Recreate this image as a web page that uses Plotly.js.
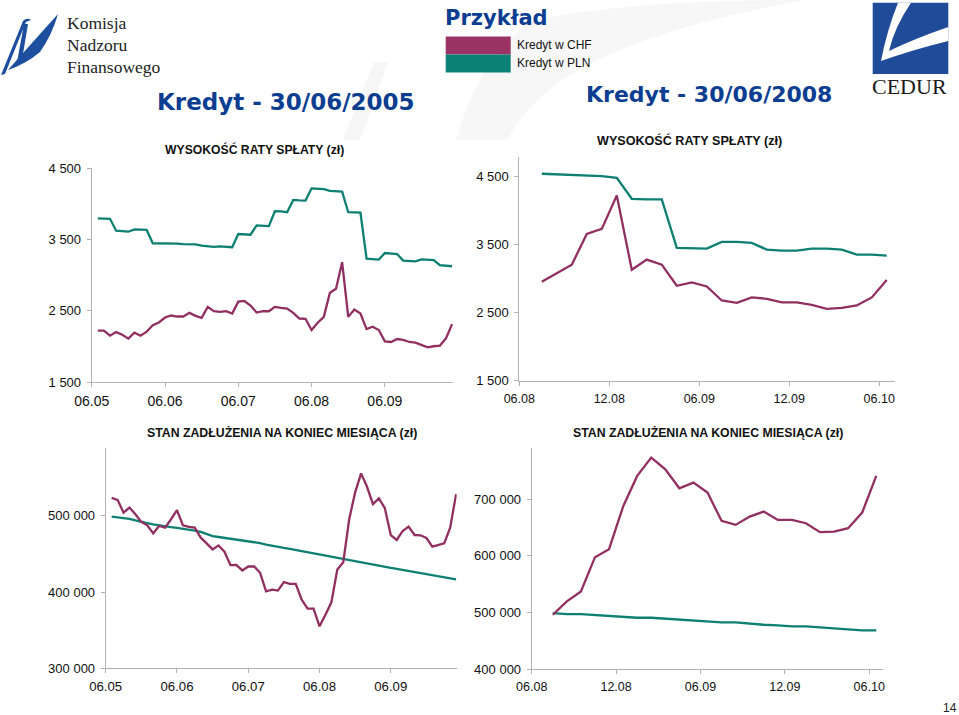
<!DOCTYPE html>
<html><head><meta charset="utf-8">
<script src="https://cdn.plot.ly/plotly-3.0.1.min.js"></script>
<style>html,body{margin:0;padding:0;background:#fff;overflow:hidden}#chart{width:959px;height:715px}</style>
</head><body><div id="chart"></div>
<script>
// ---------- DATA ----------
// month offsets from the first tick (06.05 for 2005 loan, 06.08 for 2008 loan)
const months2005 = [1,2,3,4,5,6,7,8,9,10,11,12,13,14,15,16,17,18,19,20,21,22,23,24,25,26,27,28,29,30,31,32,33,34,35,36,37,38,39,40,41,42,43,44,45,46,47,48,49,50,51,52,53,54,55,56,57,58,59];
const months2008 = [1.5,2.5,3.5,4.5,5.5,6.5,7.5,8.5,9.5,10.5,11.5,12.5,13.5,14.5,15.5,16.5,17.5,18.5,19.5,20.5,21.5,22.5,23.5,24.5];

const ticks2005 = ["06.05","06.06","06.07","06.08","06.09"];
const tickPos2005 = [0,12,24,36,48];
const ticks2008 = ["06.08","12.08","06.09","12.09","06.10"];
const tickPos2008 = [0,6,12,18,24];

const rataTickVals = [1500,2500,3500,4500];
const rataTickText = ["1 500","2 500","3 500","4 500"];
const dlug2005TickVals = [300000,400000,500000];
const dlug2005TickText = ["300 000","400 000","500 000"];
const dlug2008TickVals = [400000,500000,600000,700000];
const dlug2008TickText = ["400 000","500 000","600 000","700 000"];

// Installment (WYSOKOŚĆ RATY SPŁATY) – loan taken 30/06/2005
const rata2005CHF = [2219,2219,2149,2200,2163,2108,2191,2149,2205,2297,2335,2404,2432,2418,2418,2469,2427,2400,2553,2494,2484,2494,2460,2627,2636,2571,2474,2492,2492,2553,2539,2529,2469,2390,2386,2228,2330,2413,2752,2808,3179,2413,2515,2460,2242,2274,2228,2070,2061,2103,2089,2061,2052,2019,1987,2001,2010,2112,2312];
const rata2005PLN = [3795,3790,3788,3620,3615,3607,3640,3635,3632,3445,3445,3443,3442,3440,3432,3430,3428,3412,3405,3395,3402,3395,3390,3575,3568,3565,3695,3692,3685,3895,3893,3880,4052,4045,4043,4215,4208,4205,4178,4175,4168,3880,3876,3874,3230,3228,3216,3308,3305,3294,3202,3193,3192,3220,3218,3210,3138,3135,3123];

// Installment – loan taken 30/06/2008
const rata2008CHF = [2951,3078,3201,3652,3725,4216,3127,3275,3201,2892,2941,2882,2676,2642,2721,2701,2647,2647,2613,2554,2569,2603,2721,2975];
const rata2008PLN = [4534,4525,4525,4515,4500,4475,4167,4157,4157,3446,3436,3436,3534,3534,3520,3422,3407,3407,3436,3436,3422,3348,3348,3333];

// Debt at month end (STAN ZADŁUŻENIA) – 2005 loan
const dlug2005CHF = [523700,521100,504400,511000,502200,492100,487700,477100,486800,484600,495600,507500,487700,485500,484600,471400,464000,456000,461300,453000,435400,435800,428400,433600,433600,425300,401100,403300,402000,413000,410800,410800,390100,378200,378200,355100,370300,386600,429700,439300,495600,530800,555800,538200,515400,522900,510100,474900,468400,480200,485900,474900,474500,471000,459600,461300,464000,484600,528600];
const dlug2005PLN = [499000,498000,497200,496000,494000,492000,490500,489000,487500,486300,485200,484200,483300,482000,480800,479000,476000,473500,472300,471200,470200,469000,468000,467000,465800,464300,462300,460600,459300,458000,456800,455300,453900,452400,451000,449500,448200,446600,445100,443600,442200,440300,438600,437200,435800,434500,433300,431900,430600,429200,427900,426300,424900,423600,422400,421200,419900,418300,416700];

// Debt at month end – 2008 loan
const dlug2008CHF = [495900,519400,537100,597600,611800,687100,741200,773500,752900,719400,729400,711800,661800,654700,669400,678200,663500,663500,657600,641800,642900,648800,676500,741200];
const dlug2008PLN = [498800,497100,497100,495300,494100,492400,490600,490600,488800,487100,485900,484100,482400,482400,480000,478200,477100,475300,475300,473500,471800,470000,468200,468200];

// ---------- STYLE ----------
const W = 959, H = 715;
const fx = x => x / W, fy = y => 1 - y / H;
const CHF = '#922f61', PLN = '#0d8072';
const SANS = 'Liberation Sans, Arial, sans-serif';
const BOLD = 'DejaVu Sans, Verdana, sans-serif';
const SERIF = 'Liberation Serif, Times New Roman, serif';

function path(cmds){
  let s = '', i = 0;
  while (i < cmds.length){
    const c = cmds[i++];
    if (c === 'Z'){ s += 'Z'; continue; }
    const n = c === 'Q' ? 2 : 1;
    s += c;
    for (let k = 0; k < n; k++){
      const x = cmds[i++], y = cmds[i++];
      s += (k ? ' ' : '') + fx(x).toFixed(5) + ',' + fy(y).toFixed(5);
    }
    s += ' ';
  }
  return s;
}

function xax(dom, range, vals, text, fs){
  return {domain:[fx(dom[0]), fx(dom[1])], range:range, tickvals:vals, ticktext:text,
    showline:true, linecolor:'#b2b2b2', linewidth:1, ticks:'outside', ticklen:4, tickcolor:'#b2b2b2',
    showgrid:false, zeroline:false, fixedrange:true, ticklabelstandoff:2,
    tickfont:{family:SANS, size:fs, color:'#111'}};
}
function yax(dom, range, vals, text, anchor){
  return {domain:[fy(dom[1]), fy(dom[0])], range:range, tickvals:vals, ticktext:text, anchor:anchor,
    showline:true, linecolor:'#b2b2b2', linewidth:1, ticks:'outside', ticklen:4, tickcolor:'#b2b2b2',
    showgrid:false, zeroline:false, fixedrange:true, ticklabelstandoff:3,
    tickfont:{family:SANS, size:13, color:'#111'}};
}
function line(x, y, color, xa, ya){
  return {x:x, y:y, type:'scatter', mode:'lines', line:{color:color, width:2.3},
    xaxis:xa, yaxis:ya, hoverinfo:'skip', showlegend:false};
}

const data = [
  line(months2005, rata2005PLN, PLN, 'x', 'y'),
  line(months2005, rata2005CHF, CHF, 'x', 'y'),
  line(months2008, rata2008PLN, PLN, 'x2', 'y2'),
  line(months2008, rata2008CHF, CHF, 'x2', 'y2'),
  line(months2005, dlug2005PLN, PLN, 'x3', 'y3'),
  line(months2005, dlug2005CHF, CHF, 'x3', 'y3'),
  line(months2008, dlug2008PLN, PLN, 'x4', 'y4'),
  line(months2008, dlug2008CHF, CHF, 'x4', 'y4')
];

function ann(text, x, y, size, family, color, xanchor){
  return {text:text, x:fx(x), y:fy(y), xref:'paper', yref:'paper', showarrow:false,
    xanchor:xanchor||'center', yanchor:'middle', font:{family:family, size:size, color:color}};
}

const blue = '#0b3d91';
const annotations = [
  ann('<b>Kredyt - 30/06/2005</b>', 286.3, 101.5, 23, BOLD, blue),
  ann('<b>Kredyt - 30/06/2008</b>', 708.5, 94.5, 22, BOLD, blue),
  ann('<b>Przykład</b>', 496.8, 17.5, 21, BOLD, blue),
  ann('Kredyt w CHF', 515, 45.5, 12, SANS, '#111', 'left'),
  ann('Kredyt w PLN', 515, 63.5, 12, SANS, '#111', 'left'),
  ann('<b>WYSOKOŚĆ RATY SPŁATY (zł)</b>', 254.7, 149, 12.2, SANS, '#111'),
  ann('<b>WYSOKOŚĆ RATY SPŁATY (zł)</b>', 689, 140, 12.6, SANS, '#111'),
  ann('<b>STAN ZADŁUŻENIA NA KONIEC MIESIĄCA (zł)</b>', 281.7, 432.5, 12.3, SANS, '#111'),
  ann('<b>STAN ZADŁUŻENIA NA KONIEC MIESIĄCA (zł)</b>', 708.3, 432, 12.3, SANS, '#111'),
  ann('Komisja', 64.5, 23.5, 17.5, SERIF, '#222', 'left'),
  ann('Nadzoru', 64.5, 45, 17.5, SERIF, '#222', 'left'),
  ann('Finansowego', 64.5, 67, 17.5, SERIF, '#222', 'left'),
  ann('CEDUR', 909.5, 86.5, 22, SERIF, '#1a1a1a'),
  ann('14', 950, 708, 12, SANS, '#222')
];

const shapes = [
  // faint background swoosh
  {type:'path', xref:'paper', yref:'paper', layer:'below', line:{width:0}, fillcolor:'#f6f6f6',
   path: path(['M',343,140,'L',360,140,'L',388,62,'L',374,62,'Z'])},
  {type:'path', xref:'paper', yref:'paper', layer:'below', line:{width:0}, fillcolor:'#f7f7f7',
   path: path(['M',456,140,'Q',478,60,530,22,'Q',620,0,805,0,'Q',640,30,565,78,'Q',522,108,508,140,'Z'])},
  // legend boxes
  {type:'rect', xref:'paper', yref:'paper', x0:fx(445.7), x1:fx(510.7), y0:fy(54.5), y1:fy(36.5), line:{width:0}, fillcolor:'#9b3464'},
  {type:'rect', xref:'paper', yref:'paper', x0:fx(445.7), x1:fx(510.7), y0:fy(72.5), y1:fy(54.5), line:{width:0}, fillcolor:'#0c8277'},
  // CEDUR logo
  {type:'rect', xref:'paper', yref:'paper', x0:fx(872.7), x1:fx(948.3), y0:fy(74), y1:fy(2.7), line:{width:0}, fillcolor:'#1f4b99'},
  {type:'path', xref:'paper', yref:'paper', line:{width:0}, fillcolor:'#ffffff',
   path: path(['M',898,2.7,'L',911,2.7,'Q',894,28,889,51,'Q',916,38,948.3,27,'L',948.3,41,'Q',912,50,881,61,'Q',887,30,898,2.7,'Z'])},
  // KNF logo
  {type:'path', xref:'paper', yref:'paper', line:{width:0}, fillcolor:'#1d4f9e',
   path: path(['M',1,75,'L',23,21,'Q',27,17,31,20,'L',26,22,'L',5,74,'Z'])},
  {type:'path', xref:'paper', yref:'paper', line:{width:0}, fillcolor:'#1d4f9e',
   path: path(['M',8,70,'Q',30,45,58,14,'Q',52,35,40,52,'Q',26,64,8,70,'Z'])},
  {type:'path', xref:'paper', yref:'paper', line:{width:0}, fillcolor:'#1d4f9e',
   path: path(['M',24,24,'L',28,24,'L',22,60,'L',17,62,'Z'])}
];

const layout = {
  width:W, height:H, margin:{l:0,r:0,t:0,b:0}, autosize:false,
  paper_bgcolor:'#ffffff', plot_bgcolor:'rgba(0,0,0,0)', showlegend:false,
  xaxis:  Object.assign(xax([91.7,453.3], [0,59.2], tickPos2005, ticks2005, 14), {anchor:'y'}),
  yaxis:  yax([168,382], [1500,4500], rataTickVals, rataTickText, 'x'),
  xaxis2: Object.assign(xax([519.3,895], [0,25.05], tickPos2008, ticks2008, 12.5), {anchor:'y2'}),
  yaxis2: yax([156.7,380.7], [1500,4784], rataTickVals, rataTickText, 'x2'),
  xaxis3: Object.assign(xax([105.7,456.7], [0,59.1], tickPos2005, ticks2005, 13.2), {anchor:'y3'}),
  yaxis3: yax([448.3,668.3], [300000,588700], dlug2005TickVals, dlug2005TickText, 'x3'),
  xaxis4: Object.assign(xax([531.7,883.3], [0,25.0], tickPos2008, ticks2008, 12.5), {anchor:'y4'}),
  yaxis4: yax([448.3,669], [400000,790000], dlug2008TickVals, dlug2008TickText, 'x4'),
  annotations:annotations, shapes:shapes
};

Plotly.newPlot('chart', data, layout, {staticPlot:true, displayModeBar:false});
</script>
</body></html>
